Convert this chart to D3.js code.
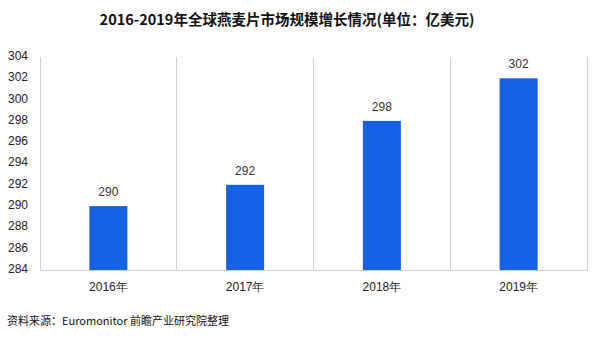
<!DOCTYPE html>
<html>
<head>
<meta charset="utf-8">
<script src="https://cdn.jsdelivr.net/npm/d3@7"></script>
<style>
  html, body { margin: 0; padding: 0; background: #fff; }
  svg { display: block; font-family: "Noto Sans CJK SC", "Noto Sans", sans-serif; }
</style>
</head>
<body>
<svg id="chart" width="597" height="341"></svg>
<script>
// Global oatmeal market size, 2016-2019 (100 million USD)
const years = ["2016年", "2017年", "2018年", "2019年"];
const values = [290, 292, 298, 302];
const yTicks = [284, 286, 288, 290, 292, 294, 296, 298, 300, 302, 304];
const title = "2016-2019年全球燕麦片市场规模增长情况(单位：亿美元)";
const source = "资料来源：Euromonitor 前瞻产业研究院整理";

const svg = d3.select("#chart");
const margin = { left: 40, right: 10, top: 57, bottom: 71 };
const W = 597, H = 341;

const x = d3.scaleBand()
  .domain(years)
  .range([margin.left, W - margin.right])
  .paddingInner(0)
  .paddingOuter(0);

const y = d3.scaleLinear()
  .domain([284, 304])
  .range([H - margin.bottom, margin.top]);

const gridColor = "#d0d0d0";

// Title
svg.append("text")
  .attr("x", 287)
  .attr("y", 25)
  .attr("text-anchor", "middle")
  .attr("font-size", 14.5)
  .attr("font-weight", "bold")
  .attr("fill", "#111")
  .text(title);

// Vertical separators between categories
const bounds = years.map(d => x(d)).concat([x(years[years.length - 1]) + x.bandwidth()]);
svg.append("g")
  .selectAll("line")
  .data(bounds)
  .join("line")
  .attr("x1", d => d).attr("x2", d => d)
  .attr("y1", y(304)).attr("y2", y(284))
  .attr("stroke", gridColor)
  .attr("stroke-width", 1)
  .attr("shape-rendering", "crispEdges");

// Baseline
svg.append("line")
  .attr("x1", margin.left).attr("x2", W - margin.right)
  .attr("y1", y(284)).attr("y2", y(284))
  .attr("stroke", gridColor)
  .attr("shape-rendering", "crispEdges");

// Y axis labels
const yAxis = d3.axisLeft(y).tickValues(yTicks).tickSize(0).tickPadding(10);
const gy = svg.append("g")
  .attr("transform", `translate(${margin.left - 2},0)`)
  .call(yAxis);
gy.select(".domain").remove();
gy.selectAll("text")
  .attr("font-size", 12)
  .attr("fill", "#222")
  .attr("font-family", "'Liberation Sans', Arial, sans-serif")
  .attr("dy", "0.2em");

// X axis labels
const xAxis = d3.axisBottom(x).tickSize(0).tickPadding(12);
const gx = svg.append("g")
  .attr("transform", `translate(0,${y(284)})`)
  .call(xAxis);
gx.select(".domain").remove();
gx.selectAll("text")
  .attr("font-size", 12)
  .attr("fill", "#222");

// Bars
const barW = 38;
svg.append("g")
  .selectAll("rect")
  .data(values)
  .join("rect")
  .attr("x", (d, i) => x(years[i]) + x.bandwidth() / 2 - barW / 2)
  .attr("y", d => y(d))
  .attr("width", barW)
  .attr("height", d => y(284) - y(d))
  .attr("fill", "#1461e1");

// Value labels
svg.append("g")
  .selectAll("text")
  .data(values)
  .join("text")
  .attr("x", (d, i) => x(years[i]) + x.bandwidth() / 2)
  .attr("y", d => y(d) - 10)
  .attr("text-anchor", "middle")
  .attr("font-size", 12)
  .attr("fill", "#333")
  .attr("font-family", "'Liberation Sans', Arial, sans-serif")
  .text(d => d);

// Source note
svg.append("text")
  .attr("x", 7)
  .attr("y", 325)
  .attr("font-size", 11)
  .attr("fill", "#111")
  .text(source);
</script>
</body>
</html>
